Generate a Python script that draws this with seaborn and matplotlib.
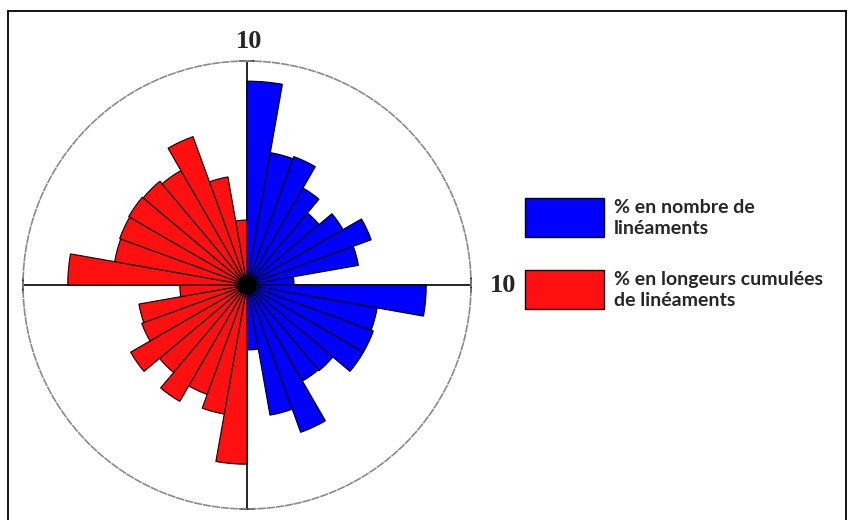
import numpy as np
import matplotlib.pyplot as plt
import seaborn as sns
from matplotlib.patches import Rectangle, Circle

sns.set_style("white")
plt.rcParams['font.family'] = ['Lato', 'DejaVu Sans']

# classes de 10 degres en azimut (0 = Nord, sens horaire)
angles_bleu = np.arange(0, 180, 10)
angles_rouge = np.arange(180, 360, 10)

# % en nombre de lineaments (0-180)
nombre = [9.1, 6.0, 6.1, 5.0, 4.2, 4.95, 5.9, 5.05, 2.1,
          8.0, 5.9, 6.0, 6.0, 5.0, 4.95, 7.0, 5.9, 2.9]
# % en longueurs cumulees (180-360)
longueurs = [8.0, 5.85, 5.2, 6.0, 5.1, 6.0, 5.0, 4.9, 3.0,
             8.0, 6.0, 6.05, 6.1, 6.05, 5.9, 7.05, 4.9, 2.9]

legende = ["% en nombre de\nlinéaments", "% en longeurs cumulées\nde linéaments"]
r_max = 10
couleurs = sns.color_palette(["#0000ff", "#ff1010"])

W, H = 850, 520
fig = plt.figure(figsize=(8.5, 5.2), dpi=100)
ax = fig.add_axes([23 / W, 11 / H, 448 / W, 448 / H], projection='polar')
ax.set_theta_zero_location('N')
ax.set_theta_direction(-1)

largeur = np.deg2rad(10)
ax.bar(np.deg2rad(angles_bleu), nombre, width=largeur, align='edge',
       color=couleurs[0], edgecolor='black', linewidth=0.8, zorder=3)
ax.bar(np.deg2rad(angles_rouge), longueurs, width=largeur, align='edge',
       color=couleurs[1], edgecolor='black', linewidth=0.8, zorder=3)

# croix centrale
for t in [0, 90, 180, 270]:
    ax.plot([np.deg2rad(t)] * 2, [0, r_max], color='black', lw=1.2, zorder=2)
c = 0.016
for xs, ys in [([0.5 - c, 0.5 + c], [1, 1]), ([0.5 - c, 0.5 + c], [0, 0]),
               ([1, 1], [0.5 - c, 0.5 + c]), ([0, 0], [0.5 - c, 0.5 + c])]:
    ax.plot(xs, ys, color='black', lw=1.3, transform=ax.transAxes, clip_on=False)
ax.add_artist(Circle((0.5, 0.5), 0.02, transform=ax.transAxes, color='black', zorder=4))

ax.set_ylim(0, r_max)
ax.set_xticks([])
ax.set_yticks([])
ax.grid(False)
ax.spines['polar'].set_color('#8a8a8a')
ax.spines['polar'].set_linewidth(1.2)
ax.spines['polar'].set_linestyle((0, (4, 1.5)))

# echelle
fig.text(249 / W, 1 - 42 / H, "10", family='Liberation Serif', weight='bold',
         fontsize=19, ha='center', va='center')
fig.text(503 / W, 1 - 286 / H, "10", family='Liberation Serif', weight='bold',
         fontsize=19, ha='center', va='center')

# legende
for i, (y0, txt) in enumerate(zip([198, 270], legende)):
    fig.add_artist(Rectangle((525 / W, 1 - (y0 + 39) / H), 79 / W, 39 / H,
                             transform=fig.transFigure, facecolor=couleurs[i],
                             edgecolor='black', lw=1))
    fig.text(614 / W, 1 - (y0 + 20) / H, txt, fontsize=14, weight='bold',
             ha='left', va='center', linespacing=1.25)

# cadre
fig.add_artist(Rectangle((8 / W, -0.1), (846 - 8) / W, 1.1 - 11 / H,
                         transform=fig.transFigure, fill=False,
                         edgecolor='black', lw=1.3))

fig.savefig("out.png", dpi=100)
